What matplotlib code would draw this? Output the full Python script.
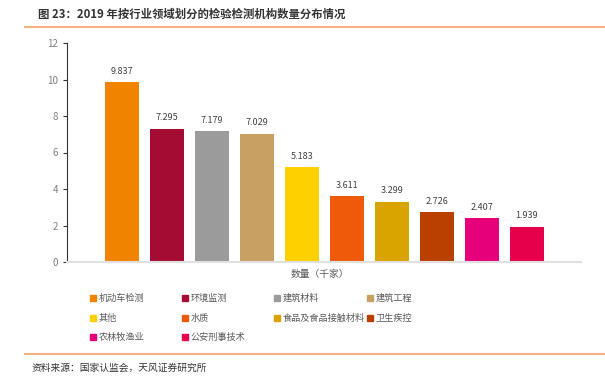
import matplotlib.pyplot as plt
from matplotlib.lines import Line2D
import numpy as np

plt.rcParams['font.family'] = ['Noto Sans CJK SC', 'DejaVu Sans']

categories = ['机动车检测', '环境监测', '建筑材料', '建筑工程', '其他', '水质',
              '食品及食品接触材料', '卫生疾控', '农林牧渔业', '公安刑事技术']
values = [9.837, 7.295, 7.179, 7.029, 5.183, 3.611, 3.299, 2.726, 2.407, 1.939]
colors = ['#F08300', '#A50C33', '#9B9B9B', '#C8A064', '#FFD000', '#EE5A0A',
          '#D9A400', '#B94000', '#E6007A', '#E6004C']

fig = plt.figure(figsize=(6.05, 3.81), dpi=100)
W, H = 605, 381

# title and frame lines
fig.text(38 / W, 1 - 14 / H, '图 23：2019 年按行业领域划分的检验检测机构数量分布情况',
         fontsize=8.2, fontweight='bold', color='#333333', va='center')
fig.add_artist(Line2D([25 / W, 1], [1 - 27 / H] * 2, color='#F4B183', lw=1.5))
fig.add_artist(Line2D([25 / W, 1], [1 - 354 / H] * 2, color='#F4B183', lw=1.5))
fig.text(32 / W, 1 - 368 / H, '资料来源：国家认监会，天风证券研究所',
         fontsize=7, color='#333333', va='center')

ax = fig.add_axes([67 / W, 1 - 262 / H, (581 - 67) / W, (262 - 43) / H])
x = np.arange(len(values))
bars = ax.bar(x, values, width=0.76, color=colors)
for xi, v in zip(x, values):
    ax.text(xi, v + 0.35, f'{v:.3f}', ha='center', va='bottom', fontsize=6.5, color='#404040')

ax.set_xlim(-1.22, 10.2)
ax.set_ylim(0, 12)
ax.set_yticks(range(0, 13, 2))
ax.tick_params(axis='y', labelsize=7, labelcolor='#7F7F7F', length=3, width=0.8, color='#333333')
ax.set_xticks([])
for s in ['top', 'right']:
    ax.spines[s].set_visible(False)
ax.spines['left'].set_color('#333333')
ax.spines['left'].set_linewidth(0.8)
ax.spines['bottom'].set_color('#E0E0E0')
ax.spines['bottom'].set_linewidth(1.5)

fig.text(320 / W, 1 - 274 / H, '数量（千家）', fontsize=7, color='#595959',
         ha='center', va='center')

# legend
col_x = [93, 185, 277, 370]
row_y = [298, 318, 337]
for i, (c, col) in enumerate(zip(categories, colors)):
    r, k = divmod(i, 4)
    fig.patches.append(plt.Rectangle(((col_x[k] - 3) / W, 1 - (row_y[r] + 3) / H), 6 / W, 6 / H,
                                     color=col, transform=fig.transFigure, figure=fig))
    fig.text((col_x[k] + 6) / W, 1 - row_y[r] / H, c, fontsize=6.6, color='#595959', va='center')

fig.savefig('out.png', dpi=100)
